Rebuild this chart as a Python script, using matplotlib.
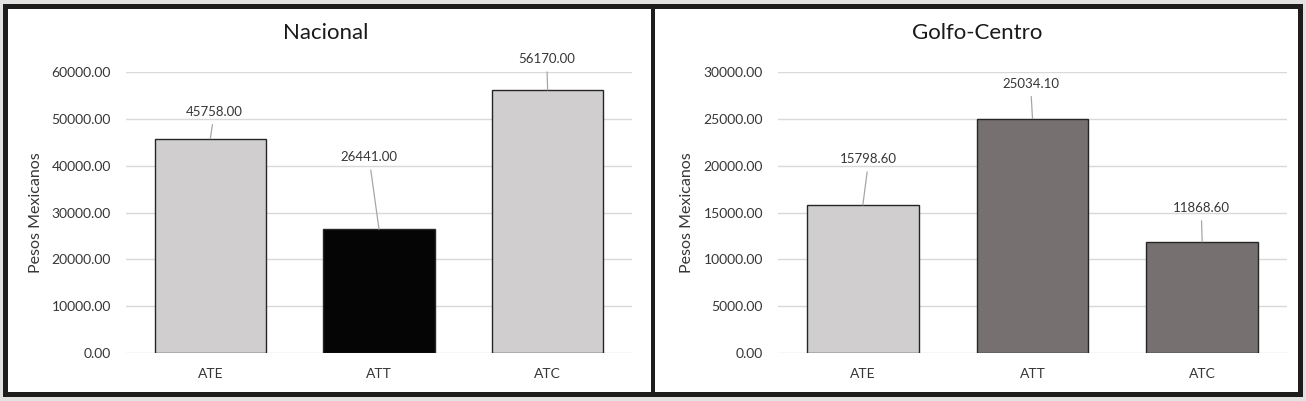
import matplotlib
matplotlib.use("Agg")
import matplotlib.pyplot as plt
from matplotlib.patches import Rectangle

categories = ["ATE", "ATT", "ATC"]
titles = ["Nacional", "Golfo-Centro"]
nacional_values = [45758.00, 26441.00, 56170.00]
golfo_values = [15798.60, 25034.10, 11868.60]
nacional_ticks = [0, 10000, 20000, 30000, 40000, 50000, 60000]
golfo_ticks = [0, 5000, 10000, 15000, 20000, 25000, 30000]
ylabel = "Pesos Mexicanos"

# styling / layout (not data)
nacional_colors = ["#d0cecf", "#050505", "#d0cecf"]
golfo_colors = ["#d0cecf", "#767170", "#767170"]
nacional_offsets = [(4, 27), (-10, 72), (-1, 31)]   # label offsets in pixels
golfo_offsets = [(6, 46), (-2, 35), (-1, 34)]

W, H = 1306, 401
plt.rcParams['font.family'] = ['Lato', 'DejaVu Sans']
fig = plt.figure(figsize=(W / 100, H / 100), dpi=100)
fig.patch.set_facecolor("#e2e2e2")

def fx(px):
    return px / W

def fy(py):
    return 1 - py / H

# white background with black frame
bg = Rectangle((fx(4.5), fy(393.5)), fx(1299.5) - fx(4.5), fy(5.5) - fy(393.5),
               transform=fig.transFigure, facecolor="white", edgecolor="#1f1c1c",
               linewidth=3.6, zorder=-10)
fig.add_artist(bg)
div = Rectangle((fx(651), fy(393.5)), fx(655) - fx(651), fy(5.5) - fy(393.5),
                transform=fig.transFigure, facecolor="#1f1c1c", edgecolor="none", zorder=5)
fig.add_artist(div)

panels = [
    (126, 632, 326, nacional_values, nacional_colors, nacional_ticks, nacional_offsets, titles[0]),
    (778, 1287, 977, golfo_values, golfo_colors, golfo_ticks, golfo_offsets, titles[1]),
]

text_col = "#363636"
for (x0, x1, tx, vals, cols, ticks, offs, title) in panels:
    ax = fig.add_axes([fx(x0), fy(353), fx(x1) - fx(x0), fy(72) - fy(353)])
    ax.set_facecolor("none")
    xs = list(range(len(categories)))
    ax.bar(xs, vals, width=0.66, color=cols, edgecolor="#262626", linewidth=1.0, zorder=3)
    ax.set_xlim(-0.5, len(categories) - 0.5)
    ax.set_ylim(ticks[0], ticks[-1])
    ax.set_yticks(ticks)
    ax.set_yticklabels([f"{t:.2f}" for t in ticks])
    ax.set_xticks(xs)
    ax.set_xticklabels(categories)
    ax.grid(axis="y", color="#d9d9d9", linewidth=1.0, zorder=0)
    for s in ax.spines.values():
        s.set_visible(False)
    ax.tick_params(axis="y", length=0, pad=10.8, labelsize=10, labelcolor=text_col)
    ax.tick_params(axis="x", length=0, pad=10.5, labelsize=10, labelcolor=text_col)
    ax.set_ylabel(ylabel, fontsize=11.5, color=text_col)
    ax.yaxis.set_label_coords(-0.165, 0.5)
    for x, v, (dx, dy) in zip(xs, vals, offs):
        ax.annotate(f"{v:.2f}", xy=(x, v), xytext=(dx, dy), textcoords="offset pixels",
                    ha="center", va="center", fontsize=9.5, color=text_col,
                    annotation_clip=False,
                    arrowprops=dict(arrowstyle="-", color="#a6a6a6", lw=0.9,
                                    shrinkA=3, shrinkB=0))
    fig.text(fx(tx), fy(33), title, ha="center", va="center", fontsize=16, color="#1a1a1a")

fig.savefig("out.png", dpi=100, facecolor=fig.get_facecolor())
